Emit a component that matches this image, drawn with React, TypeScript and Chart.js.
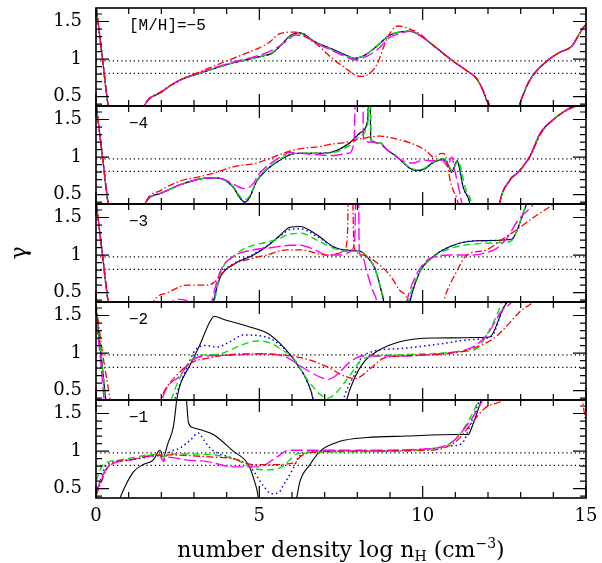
import React, { useEffect, useRef } from "react";
import { Chart, registerables } from "chart.js";

Chart.register(...registerables);

// ---------- axes / labels ----------
const xTickLabels = [0, 5, 10, 15];
const xMinorTicks = [1, 2, 3, 4, 6, 7, 8, 9, 11, 12, 13, 14];
const yTickLabels = [0.5, 1, 1.5];
const yMinorTicks = [0.4, 0.6, 0.7, 0.8, 0.9, 1.1, 1.2, 1.3, 1.4, 1.6];
const refLevels = [0.975, 0.81];
const panelLabels = ["[M/H]=\u22125", "\u22124", "\u22123", "\u22122", "\u22121"];
const Y_MIN = 0.375;
const Y_MAX = 1.68;

// ---------- data: [log nH, gamma] ----------
// panel [M/H] = -5
const p1Black = [[0, 1.72], [0.2, 1.0], [0.38, 0.36], [0.5, 0.2], [1.35, 0.2], [1.47, 0.37], [2.0, 0.56], [2.57, 0.72], [3.18, 0.81], [4.2, 0.95], [5.0, 1.03], [5.4, 1.08], [5.7, 1.2], [5.94, 1.31], [6.24, 1.35], [6.7, 1.23], [7.25, 1.13], [7.6, 1.06], [7.93, 1.01], [8.3, 1.07], [8.59, 1.17], [9.0, 1.32], [9.3, 1.36], [9.61, 1.37], [10.0, 1.29], [10.3, 1.19], [10.94, 0.97], [11.3, 0.86], [11.65, 0.74], [11.85, 0.58], [11.96, 0.45], [12.05, 0.37], [12.1, 0.2], [12.9, 0.2], [12.96, 0.37], [13.1, 0.55], [13.28, 0.72], [13.79, 0.97], [14.2, 1.09], [14.56, 1.17], [14.75, 1.3], [14.92, 1.42], [15, 1.46]];
const p1Blue = [[0, 1.72], [0.2, 1.0], [0.38, 0.36], [0.5, 0.2], [1.35, 0.2], [1.47, 0.37], [2.0, 0.56], [2.57, 0.72], [3.18, 0.81], [4.2, 0.95], [5.0, 1.03], [5.4, 1.08], [5.7, 1.2], [5.94, 1.31], [6.24, 1.35], [6.7, 1.23], [7.25, 1.13], [7.6, 1.06], [7.93, 1.01], [8.3, 1.07], [8.59, 1.17], [9.0, 1.32], [9.3, 1.36], [9.61, 1.37], [10.0, 1.29], [10.3, 1.19], [10.94, 0.97], [11.3, 0.86], [11.65, 0.74], [11.85, 0.58], [11.96, 0.45], [12.05, 0.37], [12.1, 0.2], [12.9, 0.2], [12.96, 0.37], [13.1, 0.55], [13.28, 0.72], [13.79, 0.97], [14.2, 1.09], [14.56, 1.17], [14.75, 1.3], [14.92, 1.42], [15, 1.46]];
const p1Green = [[0, 1.72], [0.2, 1.0], [0.38, 0.36], [0.5, 0.2], [1.35, 0.2], [1.47, 0.37], [2.0, 0.56], [2.57, 0.72], [3.18, 0.81], [4.2, 0.95], [5.0, 1.03], [5.4, 1.09], [5.7, 1.2], [5.94, 1.3], [6.24, 1.34], [6.7, 1.23], [7.25, 1.12], [7.6, 1.05], [7.93, 1.01], [8.3, 1.07], [8.59, 1.17], [9.0, 1.32], [9.3, 1.36], [9.61, 1.37], [10.0, 1.29], [10.3, 1.19], [10.94, 0.97], [11.3, 0.86], [11.65, 0.74], [11.85, 0.58], [11.96, 0.45], [12.05, 0.37], [12.1, 0.2], [12.9, 0.2], [12.96, 0.37], [13.1, 0.55], [13.28, 0.72], [13.79, 0.97], [14.2, 1.09], [14.56, 1.17], [14.75, 1.3], [14.92, 1.42], [15, 1.46]];
const p1Magenta = [[0, 1.72], [0.2, 1.0], [0.38, 0.36], [0.5, 0.2], [1.35, 0.2], [1.47, 0.37], [2.0, 0.56], [2.57, 0.72], [3.18, 0.82], [4.2, 0.96], [5.0, 1.05], [5.4, 1.12], [5.84, 1.24], [6.1, 1.32], [6.4, 1.3], [6.8, 1.2], [7.25, 1.11], [7.6, 1.04], [7.95, 0.99], [8.3, 1.04], [8.6, 1.12], [9.0, 1.29], [9.3, 1.34], [9.61, 1.37], [10.0, 1.29], [10.3, 1.19], [10.94, 0.97], [11.3, 0.86], [11.65, 0.74], [11.85, 0.58], [11.96, 0.45], [12.05, 0.37], [12.1, 0.2], [12.9, 0.2], [12.96, 0.37], [13.1, 0.55], [13.28, 0.72], [13.79, 0.97], [14.2, 1.09], [14.56, 1.17], [14.75, 1.3], [14.92, 1.42], [15, 1.46]];
const p1Red = [[0, 1.72], [0.2, 1.0], [0.38, 0.36], [0.5, 0.2], [1.35, 0.2], [1.47, 0.37], [2.0, 0.57], [2.57, 0.72], [3.18, 0.83], [4.2, 1.01], [5.0, 1.15], [5.3, 1.22], [5.63, 1.34], [6.1, 1.36], [6.4, 1.3], [6.8, 1.18], [7.2, 1.02], [7.57, 0.9], [8.08, 0.77], [8.35, 0.8], [8.59, 0.92], [8.95, 1.31], [9.25, 1.44], [9.61, 1.4], [9.9, 1.34], [10.3, 1.19], [10.94, 0.97], [11.3, 0.86], [11.65, 0.74], [11.85, 0.58], [11.96, 0.45], [12.05, 0.37], [12.1, 0.2], [12.9, 0.2], [12.96, 0.37], [13.1, 0.55], [13.28, 0.72], [13.79, 0.97], [14.2, 1.09], [14.56, 1.17], [14.75, 1.3], [14.92, 1.42], [15, 1.46]];

// panel [M/H] = -4
const p2Black = [[0, 1.72], [0.2, 1.0], [0.38, 0.36], [0.5, 0.2], [1.4, 0.2], [1.5, 0.38], [2.0, 0.52], [2.57, 0.63], [3.0, 0.69], [3.39, 0.72], [3.7, 0.72], [3.9, 0.7], [4.2, 0.6], [4.4, 0.46], [4.56, 0.4], [4.7, 0.46], [4.91, 0.67], [5.22, 0.83], [5.6, 0.95], [5.94, 1.03], [6.24, 1.05], [6.8, 1.05], [7.25, 1.07], [7.77, 1.19], [8.08, 1.32], [8.29, 1.44], [8.33, 1.6], [8.35, 2.0], [8.39, 2.0], [8.41, 1.23], [8.69, 1.19], [8.9, 1.1], [9.2, 1.01], [9.61, 0.85], [9.81, 0.82], [10.05, 0.84], [10.3, 0.92], [10.63, 0.97], [10.8, 0.88], [10.88, 0.8], [10.96, 0.86], [11.05, 0.95], [11.1, 0.9], [11.24, 0.6], [11.45, 0.37], [11.5, 0.2], [12.3, 0.2], [12.35, 0.37], [12.67, 0.69], [12.93, 0.8], [13.28, 1.01], [13.6, 1.32], [14.0, 1.5], [14.61, 1.68], [15, 1.75]];
const p2Blue = [[0, 1.72], [0.2, 1.0], [0.38, 0.36], [0.5, 0.2], [1.4, 0.2], [1.5, 0.38], [2.0, 0.52], [2.57, 0.63], [3.0, 0.69], [3.39, 0.72], [3.7, 0.72], [3.9, 0.7], [4.2, 0.6], [4.4, 0.46], [4.56, 0.4], [4.7, 0.46], [4.91, 0.67], [5.22, 0.83], [5.6, 0.95], [5.94, 1.03], [6.24, 1.05], [6.8, 1.05], [7.25, 1.07], [7.77, 1.19], [8.08, 1.32], [8.29, 1.44], [8.33, 1.6], [8.35, 2.0], [8.39, 2.0], [8.41, 1.23], [8.69, 1.19], [8.9, 1.1], [9.2, 1.01], [9.61, 0.85], [9.81, 0.82], [10.05, 0.84], [10.3, 0.92], [10.63, 0.97], [10.8, 0.88], [10.88, 0.8], [10.96, 0.86], [11.05, 0.95], [11.1, 0.9], [11.24, 0.6], [11.45, 0.37], [11.5, 0.2], [12.3, 0.2], [12.35, 0.37], [12.67, 0.69], [12.93, 0.8], [13.28, 1.01], [13.6, 1.32], [14.0, 1.5], [14.61, 1.68], [15, 1.75]];
const p2Green = [[0, 1.72], [0.2, 1.0], [0.38, 0.36], [0.5, 0.2], [1.4, 0.2], [1.5, 0.38], [2.0, 0.52], [2.57, 0.63], [3.0, 0.69], [3.39, 0.72], [3.7, 0.72], [3.9, 0.7], [4.2, 0.61], [4.4, 0.48], [4.56, 0.43], [4.7, 0.48], [4.91, 0.68], [5.22, 0.84], [5.6, 0.96], [5.94, 1.04], [6.24, 1.05], [6.8, 1.05], [7.25, 1.06], [7.77, 1.16], [8.08, 1.28], [8.29, 1.4], [8.34, 1.6], [8.36, 2.0], [8.4, 2.0], [8.42, 1.23], [8.69, 1.19], [8.9, 1.1], [9.2, 1.01], [9.61, 0.86], [9.81, 0.83], [10.05, 0.85], [10.3, 0.93], [10.63, 0.98], [10.8, 0.89], [10.9, 0.81], [10.98, 0.87], [11.08, 0.95], [11.15, 0.88], [11.3, 0.6], [11.5, 0.37], [11.55, 0.2], [12.3, 0.2], [12.35, 0.37], [12.67, 0.69], [12.93, 0.8], [13.28, 1.0], [13.6, 1.3], [14.0, 1.5], [14.61, 1.68], [15, 1.75]];
const p2Magenta = [[0, 1.72], [0.2, 1.0], [0.38, 0.36], [0.5, 0.2], [1.4, 0.2], [1.5, 0.38], [2.0, 0.52], [2.57, 0.63], [3.0, 0.69], [3.39, 0.72], [3.7, 0.72], [3.95, 0.7], [4.2, 0.64], [4.56, 0.58], [4.8, 0.64], [5.0, 0.78], [5.3, 0.9], [5.6, 0.99], [5.94, 1.06], [6.24, 1.05], [6.8, 1.03], [7.25, 1.02], [7.72, 1.05], [7.9, 1.2], [7.95, 2.0], [8.16, 2.0], [8.19, 1.23], [8.4, 1.2], [8.69, 1.17], [9.2, 1.0], [9.5, 0.93], [9.71, 0.92], [10.0, 0.96], [10.3, 0.95], [10.6, 0.96], [10.78, 0.87], [10.85, 0.97], [10.9, 1.0], [10.97, 0.85], [11.2, 0.37], [11.25, 0.2], [12.3, 0.2], [12.35, 0.37], [12.67, 0.69], [12.93, 0.8], [13.28, 1.01], [13.6, 1.32], [14.0, 1.5], [14.61, 1.68], [15, 1.75]];
const p2Red = [[0, 1.72], [0.2, 1.0], [0.38, 0.36], [0.5, 0.2], [1.4, 0.2], [1.5, 0.38], [2.0, 0.56], [2.57, 0.68], [3.18, 0.74], [3.7, 0.8], [4.2, 0.87], [4.91, 0.92], [5.43, 1.0], [5.94, 1.08], [6.4, 1.12], [6.86, 1.14], [7.16, 1.17], [7.57, 1.19], [8.18, 1.25], [8.69, 1.28], [9.2, 1.24], [9.61, 1.19], [10.12, 1.08], [10.33, 1.0], [10.58, 1.05], [10.7, 1.03], [10.78, 0.85], [10.84, 0.69], [11.09, 0.37], [11.15, 0.2], [12.3, 0.2], [12.35, 0.37], [12.67, 0.7], [12.93, 0.8], [13.28, 1.0], [13.6, 1.3], [14.0, 1.5], [14.61, 1.66], [15, 1.7]];

// panel [M/H] = -3
const p3Black = [[0, 1.72], [0.2, 1.0], [0.38, 0.36], [0.5, 0.2], [3.5, 0.2], [3.59, 0.37], [3.8, 0.7], [4.2, 0.87], [4.82, 1.0], [5.22, 1.11], [5.6, 1.25], [5.94, 1.37], [6.24, 1.38], [6.76, 1.27], [7.27, 1.11], [7.57, 1.07], [8.08, 1.05], [8.29, 0.98], [8.54, 0.82], [8.74, 0.51], [8.81, 0.37], [8.85, 0.2], [9.55, 0.2], [9.61, 0.37], [9.92, 0.78], [10.32, 0.98], [10.94, 1.13], [11.65, 1.19], [12.72, 1.21], [12.83, 1.27], [13.18, 1.68], [13.3, 1.8]];
const p3Blue = [[0, 1.72], [0.2, 1.0], [0.38, 0.36], [0.5, 0.2], [3.5, 0.2], [3.59, 0.37], [3.8, 0.71], [4.2, 0.88], [4.82, 1.01], [5.22, 1.12], [5.6, 1.24], [5.94, 1.34], [6.24, 1.35], [6.76, 1.25], [7.27, 1.11], [7.57, 1.07], [8.08, 1.05], [8.29, 0.98], [8.54, 0.82], [8.74, 0.51], [8.81, 0.37], [8.85, 0.2], [9.55, 0.2], [9.61, 0.37], [9.92, 0.78], [10.32, 0.98], [10.94, 1.13], [11.65, 1.19], [12.72, 1.21], [12.83, 1.27], [13.18, 1.68], [13.3, 1.8]];
const p3Green = [[0, 1.72], [0.2, 1.0], [0.38, 0.36], [0.5, 0.2], [3.52, 0.2], [3.62, 0.37], [3.8, 0.75], [4.2, 0.98], [4.61, 1.1], [5.22, 1.17], [5.6, 1.22], [5.94, 1.28], [6.3, 1.29], [6.76, 1.2], [7.27, 1.09], [7.6, 1.05], [8.08, 1.05], [8.29, 0.98], [8.54, 0.82], [8.74, 0.51], [8.84, 0.37], [8.88, 0.2], [9.5, 0.2], [9.56, 0.37], [9.9, 0.76], [10.32, 0.97], [10.94, 1.1], [11.65, 1.15], [12.5, 1.17], [12.72, 1.19], [12.83, 1.27], [13.18, 1.68], [13.3, 1.8]];
const p3Magenta = [[0, 1.72], [0.2, 1.0], [0.38, 0.36], [0.5, 0.2], [2.2, 0.2], [2.3, 0.37], [2.57, 0.41], [2.85, 0.37], [2.95, 0.2], [3.45, 0.2], [3.54, 0.37], [3.8, 0.78], [4.2, 0.98], [4.82, 1.07], [5.4, 1.1], [5.94, 1.13], [6.24, 1.13], [6.7, 1.07], [7.06, 1.0], [7.5, 1.0], [7.8, 1.05], [7.92, 1.2], [7.96, 2.0], [8.03, 2.0], [8.06, 1.05], [8.18, 0.95], [8.29, 0.78], [8.45, 0.55], [8.6, 0.37], [8.65, 0.2], [9.45, 0.2], [9.51, 0.37], [9.81, 0.74], [10.1, 0.92], [10.4, 0.98], [10.84, 1.0], [11.55, 1.0], [12.0, 1.04], [12.27, 1.09], [12.57, 1.22], [12.9, 1.45], [13.4, 1.68], [13.6, 1.8]];
const p3Red = [[0, 1.72], [0.2, 1.0], [0.38, 0.36], [0.5, 0.2], [1.65, 0.2], [1.75, 0.37], [2.2, 0.5], [2.77, 0.6], [3.39, 0.6], [3.6, 0.63], [3.8, 0.72], [4.1, 0.85], [4.82, 0.96], [5.22, 1.0], [5.84, 1.07], [6.24, 1.07], [7.06, 1.0], [7.4, 1.02], [7.62, 1.08], [7.7, 1.3], [7.73, 2.0], [7.84, 2.0], [7.9, 1.1], [8.18, 1.0], [8.59, 0.9], [9.0, 0.73], [9.3, 0.53], [9.55, 0.37], [9.6, 0.2], [10.55, 0.2], [10.63, 0.37], [11.04, 0.78], [11.35, 1.0], [11.96, 1.07], [12.37, 1.19], [12.88, 1.34], [13.39, 1.5], [14.0, 1.68], [14.3, 1.8]];

// panel [M/H] = -2
const p4Black = [[0, 1.6], [0.15, 1.0], [0.3, 0.37], [0.35, 0.2], [2.4, 0.2], [2.47, 0.38], [2.57, 0.57], [2.88, 0.84], [3.18, 1.11], [3.49, 1.42], [3.62, 1.49], [3.9, 1.45], [4.61, 1.36], [5.22, 1.27], [5.63, 1.13], [5.94, 0.98], [6.24, 0.8], [6.45, 0.64], [6.65, 0.37], [6.7, 0.2], [7.6, 0.2], [7.67, 0.37], [7.93, 0.68], [8.2, 0.88], [8.59, 1.02], [9.3, 1.15], [10.33, 1.2], [11.96, 1.21], [12.1, 1.23], [12.47, 1.6], [12.6, 1.69], [12.7, 1.8]];
const p4Blue = [[0, 1.6], [0.15, 1.0], [0.3, 0.37], [0.35, 0.2], [2.3, 0.2], [2.4, 0.37], [2.7, 0.72], [3.08, 1.06], [3.39, 1.1], [3.69, 1.08], [4.1, 1.15], [4.51, 1.24], [5.02, 1.23], [5.3, 1.2], [5.63, 1.11], [5.94, 0.98], [6.24, 0.8], [6.45, 0.63], [6.65, 0.37], [6.7, 0.2], [7.5, 0.2], [7.57, 0.37], [7.9, 0.7], [8.18, 0.97], [9.3, 1.06], [10.5, 1.12], [11.5, 1.18], [12.1, 1.22], [12.47, 1.6], [12.6, 1.7]];
const p4Green = [[0, 1.55], [0.15, 1.0], [0.3, 0.37], [0.35, 0.2], [2.2, 0.2], [2.3, 0.37], [2.6, 0.7], [2.9, 0.9], [3.18, 0.97], [3.69, 0.98], [4.2, 1.06], [4.6, 1.13], [4.92, 1.16], [5.3, 1.14], [5.63, 1.06], [6.04, 0.93], [6.45, 0.66], [6.86, 0.45], [7.1, 0.4], [7.3, 0.45], [7.77, 0.7], [8.1, 0.9], [8.59, 0.96], [9.5, 0.98], [11.2, 1.02], [11.65, 1.06], [12.0, 1.27], [12.4, 1.65], [12.5, 1.8]];
const p4Magenta = [[0, 1.4], [0.12, 1.0], [0.25, 0.37], [0.3, 0.2], [1.95, 0.2], [2.06, 0.43], [2.57, 0.7], [2.93, 0.9], [3.3, 0.96], [4.1, 0.97], [5.0, 0.99], [5.63, 0.97], [5.9, 0.93], [6.14, 0.86], [6.55, 0.75], [6.86, 0.68], [7.1, 0.65], [7.4, 0.72], [7.77, 0.88], [8.18, 0.96], [8.59, 0.96], [11.2, 1.03], [11.65, 1.11], [12.0, 1.26], [12.4, 1.55], [12.75, 1.69], [12.9, 1.8]];
const p4Red = [[0, 1.65], [0.2, 1.0], [0.43, 0.37], [0.48, 0.2], [1.85, 0.2], [1.96, 0.37], [2.57, 0.75], [2.95, 0.88], [3.39, 0.93], [4.1, 0.98], [4.82, 0.99], [5.63, 0.98], [6.24, 0.94], [6.45, 0.92], [7.06, 0.82], [7.57, 0.7], [7.93, 0.66], [8.39, 0.79], [8.79, 0.93], [9.3, 0.96], [11.2, 1.02], [11.96, 1.14], [12.3, 1.24], [12.57, 1.36], [13.0, 1.56], [13.4, 1.69], [13.6, 1.8]];

// panel [M/H] = -1
const p5Black = [[0.6, 0.2], [0.73, 0.37], [1.14, 0.72], [1.45, 0.82], [1.75, 0.88], [1.96, 1.01], [2.06, 0.92], [2.2, 1.1], [2.37, 1.33], [2.47, 1.69], [2.55, 2.1], [2.7, 2.1], [2.77, 1.69], [2.83, 1.38], [2.98, 1.31], [3.3, 1.27], [3.59, 1.22], [4.2, 1.0], [4.66, 0.82], [4.85, 0.6], [4.97, 0.37], [5.0, 0.2], [6.05, 0.2], [6.14, 0.37], [6.24, 0.59], [6.55, 0.82], [6.86, 1.0], [7.47, 1.13], [8.29, 1.18], [9.5, 1.2], [11.04, 1.22], [11.4, 1.22], [11.5, 1.31], [11.75, 1.62], [11.8, 1.69], [11.9, 1.8]];
const p5Blue = [[0, 0.45], [0.12, 0.59], [0.33, 0.82], [1.0, 0.88], [1.96, 0.94], [2.06, 0.88], [2.2, 0.97], [2.57, 1.04], [2.9, 1.15], [3.13, 1.24], [3.3, 1.15], [3.49, 1.04], [4.2, 0.9], [4.7, 0.8], [5.12, 0.54], [5.38, 0.43], [5.6, 0.45], [5.73, 0.54], [6.04, 0.77], [6.24, 0.94], [6.86, 1.0], [8.0, 1.0], [10.2, 1.03], [10.9, 1.07], [11.2, 1.1], [11.5, 1.4], [11.75, 1.69], [11.85, 1.8]];
const p5Green = [[0, 0.6], [0.22, 0.82], [0.7, 0.88], [1.96, 0.96], [2.06, 0.93], [2.3, 0.96], [3.0, 0.96], [4.2, 0.9], [4.82, 0.77], [5.2, 0.75], [5.7, 0.79], [6.14, 0.96], [6.5, 0.98], [8.0, 0.99], [10.2, 1.03], [10.9, 1.12], [11.4, 1.4], [11.7, 1.67], [11.8, 1.8]];
const p5Magenta = [[0, 0.45], [0.33, 0.77], [1.0, 0.88], [1.96, 0.94], [2.06, 0.86], [2.2, 0.92], [2.8, 0.88], [3.4, 0.86], [4.2, 0.79], [5.0, 0.79], [5.53, 0.92], [5.9, 1.01], [6.24, 1.01], [8.0, 1.01], [10.2, 1.03], [10.9, 1.12], [11.4, 1.37], [11.85, 1.69], [11.95, 1.8]];
const p5Red = [[0, 0.41], [0.43, 0.82], [1.0, 0.88], [1.96, 0.95], [2.06, 0.9], [2.2, 0.95], [2.8, 0.94], [3.6, 0.92], [4.2, 0.9], [4.8, 0.82], [5.5, 0.82], [6.14, 0.86], [6.24, 0.92], [6.86, 0.99], [8.0, 1.0], [10.2, 1.01], [11.0, 1.12], [11.5, 1.37], [11.9, 1.57], [12.5, 1.69], [12.7, 1.8], [14.8, 1.8], [14.88, 1.69], [15, 1.36]];

const panels = [
  { red: p1Red, magenta: p1Magenta, green: p1Green, blue: p1Blue, black: p1Black },
  { red: p2Red, magenta: p2Magenta, green: p2Green, blue: p2Blue, black: p2Black },
  { red: p3Red, magenta: p3Magenta, green: p3Green, blue: p3Blue, black: p3Black },
  { red: p4Red, magenta: p4Magenta, green: p4Green, blue: p4Blue, black: p4Black },
  { red: p5Red, magenta: p5Magenta, green: p5Green, blue: p5Blue, black: p5Black },
];

// ---------- styles ----------
const seriesOrder = ["red", "magenta", "green", "blue", "black"] as const;
const seriesStyle: Record<string, { color: string; width: number; dash: number[] }> = {
  black: { color: "#000000", width: 1.1, dash: [] },
  blue: { color: "#0000ff", width: 1.5, dash: [1.5, 3] },
  green: { color: "#00e600", width: 1.4, dash: [7, 4] },
  magenta: { color: "#ff00ff", width: 1.4, dash: [12, 4] },
  red: { color: "#ff0000", width: 1.3, dash: [7, 2.5, 1.5, 2.5] },
};

const PANEL_TOP = [8, 106, 204, 302, 400];
const PANEL_H = 98;
const PAD = 6;
const PAGE_W = 602;
const PAGE_H = 563;
const SERIF = '"DejaVu Serif", serif';

function makeFramePlugin(idx: number) {
  return {
    id: "frame" + idx,
    beforeDatasetsDraw(chart: any) {
      const { ctx, chartArea } = chart;
      const y = chart.scales.y;
      ctx.save();
      ctx.strokeStyle = "#000";
      ctx.lineWidth = 1.2;
      ctx.setLineDash([1.2, 3]);
      for (const lv of refLevels) {
        const py = y.getPixelForValue(lv);
        ctx.beginPath();
        ctx.moveTo(chartArea.left, py);
        ctx.lineTo(chartArea.right, py);
        ctx.stroke();
      }
      ctx.restore();
    },
    afterDatasetsDraw(chart: any) {
      const { ctx, chartArea } = chart;
      const { left, right, top, bottom } = chartArea;
      const x = chart.scales.x;
      const y = chart.scales.y;
      ctx.save();
      ctx.setLineDash([]);
      ctx.strokeStyle = "#000";
      ctx.lineWidth = 1.2;
      const tickX = (v: number, len: number) => {
        const px = x.getPixelForValue(v);
        ctx.beginPath();
        ctx.moveTo(px, top);
        ctx.lineTo(px, top + len);
        ctx.moveTo(px, bottom);
        ctx.lineTo(px, bottom - len);
        ctx.stroke();
      };
      const tickY = (v: number, len: number) => {
        const py = y.getPixelForValue(v);
        ctx.beginPath();
        ctx.moveTo(left, py);
        ctx.lineTo(left + len, py);
        ctx.moveTo(right, py);
        ctx.lineTo(right - len, py);
        ctx.stroke();
      };
      xTickLabels.forEach((v) => tickX(v, 12));
      xMinorTicks.forEach((v) => tickX(v, 6));
      yTickLabels.forEach((v) => tickY(v, 13));
      yMinorTicks.forEach((v) => tickY(v, 6));
      ctx.lineWidth = 1.6;
      ctx.strokeRect(left, top, right - left, bottom - top);

      // panel label
      ctx.fillStyle = "#000";
      ctx.font = '16px "Liberation Mono", monospace';
      ctx.textAlign = "left";
      ctx.textBaseline = "middle";
      ctx.fillText(panelLabels[idx], left + 33, top + 18);

      if (idx === 2) {
        ctx.save();
        ctx.font = "22px " + SERIF;
        ctx.textAlign = "center";
        ctx.textBaseline = "middle";
        ctx.translate(20, top + 49);
        ctx.rotate(-Math.PI / 2);
        ctx.fillText("\u03b3", 0, 0);
        ctx.restore();
      }

      if (idx === 4) {
        const main = "22px " + SERIF;
        const small = "14px " + SERIF;
        const pieces = [
          { t: "number density log n", f: main, dy: 0 },
          { t: "H", f: small, dy: 4 },
          { t: " (cm", f: main, dy: 0 },
          { t: "\u22123", f: small, dy: -9 },
          { t: ")", f: main, dy: 0 },
        ];
        let total = 0;
        for (const p of pieces) {
          ctx.font = p.f;
          total += ctx.measureText(p.t).width;
        }
        let cx = (left + right) / 2 - total / 2;
        const base = bottom + 59;
        ctx.textAlign = "left";
        ctx.textBaseline = "alphabetic";
        for (const p of pieces) {
          ctx.font = p.f;
          ctx.fillText(p.t, cx, base + p.dy);
          cx += ctx.measureText(p.t).width;
        }
      }
      ctx.restore();
    },
  };
}

function Panel({ idx }: { idx: number }) {
  const ref = useRef<HTMLCanvasElement | null>(null);
  const isLast = idx === 4;
  const divTop = PANEL_TOP[idx] - PAD;
  const divH = isLast ? PAGE_H - divTop : PANEL_H + 2 * PAD;

  useEffect(() => {
    if (!ref.current) return;
    const data = panels[idx] as Record<string, number[][]>;
    const datasets = seriesOrder.map((name) => ({
      label: name,
      data: data[name].map((p) => ({ x: p[0], y: p[1] })),
      borderColor: seriesStyle[name].color,
      borderWidth: seriesStyle[name].width,
      borderDash: seriesStyle[name].dash,
      pointRadius: 0,
      fill: false,
      cubicInterpolationMode: "monotone" as const,
      clip: 0,
    }));
    const tickFont = { family: SERIF, size: 18 };
    const xScale: any = {
      type: "linear",
      min: 0,
      max: 15,
      display: isLast,
      grid: { display: false, drawTicks: false },
      border: { display: false },
      afterBuildTicks: (s: any) => {
        s.ticks = xTickLabels.map((v) => ({ value: v }));
      },
      afterFit: (s: any) => {
        if (isLast) s.height = PAGE_H - (PANEL_TOP[4] + PANEL_H);
        s.paddingLeft = 0;
        s.paddingRight = 0;
      },
      ticks: {
        font: tickFont,
        color: "#000",
        padding: 8,
        maxRotation: 0,
        autoSkip: false,
        callback: (v: any) => String(v),
      },
    };
    const chart = new Chart(ref.current, {
      type: "line",
      data: { datasets },
      options: {
        animation: false,
        responsive: true,
        maintainAspectRatio: false,
        layout: { padding: { left: 0, right: 16, top: PAD, bottom: isLast ? 0 : PAD } },
        plugins: { legend: { display: false }, tooltip: { enabled: false }, title: { display: false } },
        elements: { point: { radius: 0 } },
        scales: {
          x: xScale,
          y: {
            type: "linear",
            min: Y_MIN,
            max: Y_MAX,
            grid: { display: false, drawTicks: false },
            border: { display: false },
            afterBuildTicks: (s: any) => {
              s.ticks = yTickLabels.map((v) => ({ value: v }));
            },
            afterFit: (s: any) => {
              s.width = 96;
              s.paddingTop = 0;
              s.paddingBottom = 0;
            },
            ticks: {
              font: tickFont,
              color: "#000",
              padding: 14,
              autoSkip: false,
              callback: (v: any) => String(v),
            },
          },
        },
      },
      plugins: [makeFramePlugin(idx)],
    });
    return () => chart.destroy();
  }, [idx]);

  return (
    <div style={{ position: "absolute", left: 0, top: divTop, width: PAGE_W, height: divH }}>
      <canvas ref={ref} />
    </div>
  );
}

export default function App() {
  return (
    <div style={{ position: "absolute", left: 0, top: 0, width: PAGE_W, height: PAGE_H, background: "#fff", overflow: "hidden" }}>
      {[0, 1, 2, 3, 4].map((i) => (
        <Panel key={i} idx={i} />
      ))}
    </div>
  );
}
